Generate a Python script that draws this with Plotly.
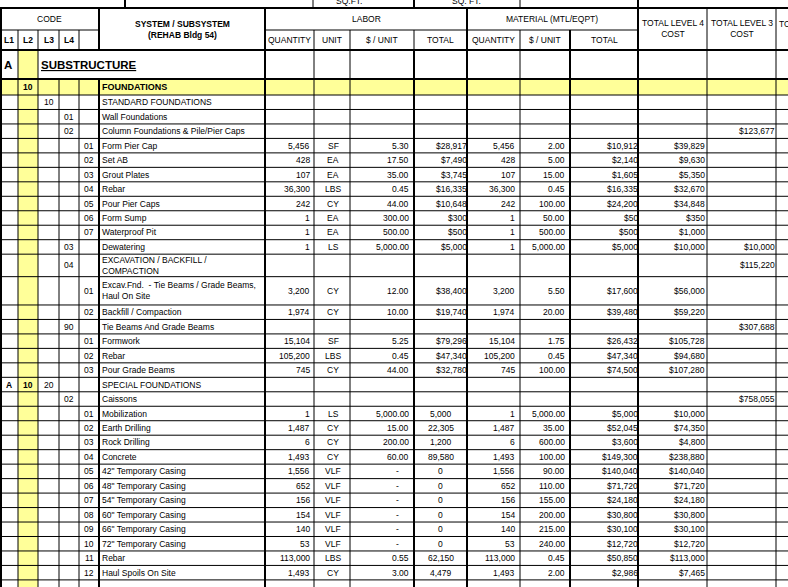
import plotly.graph_objects as go

# ---- sheet data (body rows, top to bottom, starting at STANDARD FOUNDATIONS) ----
l1 = ["", "", "", "", "", "", "", "", "", "", "", "", "", "", "", "", "", "", "A", "", "", "", "", "", "", "", "", "", "", "", "", ""]
l2 = ["", "", "", "", "", "", "", "", "", "", "", "", "", "", "", "", "", "", "10", "", "", "", "", "", "", "", "", "", "", "", "", ""]
l3 = ["10", "", "", "", "", "", "", "", "", "", "", "", "", "", "", "", "", "", "20", "", "", "", "", "", "", "", "", "", "", "", "", ""]
l4 = ["", "01", "02", "", "", "", "", "", "", "", "03", "04", "", "", "90", "", "", "", "", "02", "", "", "", "", "", "", "", "", "", "", "", ""]
l5 = ["", "", "", "01", "02", "03", "04", "05", "06", "07", "", "", "01", "02", "", "01", "02", "03", "", "", "01", "02", "03", "04", "05", "06", "07", "08", "09", "10", "11", "12"]

desc = ["STANDARD FOUNDATIONS", "Wall Foundations", "Column Foundations & Pile/Pier Caps",
        "Form Pier Cap", "Set AB", "Grout Plates", "Rebar", "Pour Pier Caps", "Form Sump",
        "Waterproof Pit", "Dewatering", "EXCAVATION / BACKFILL /<br>COMPACTION",
        "Excav.Fnd.  - Tie Beams / Grade Beams,<br>Haul On Site", "Backfill / Compaction",
        "Tie Beams And Grade Beams", "Formwork", "Rebar", "Pour Grade Beams",
        "SPECIAL FOUNDATIONS", "Caissons", "Mobilization", "Earth Drilling", "Rock Drilling",
        "Concrete", "42\" Temporary Casing", "48\" Temporary Casing", "54\" Temporary Casing",
        "60\" Temporary Casing", "66\" Temporary Casing", "72\" Temporary Casing", "Rebar",
        "Haul Spoils On Site"]

lab_qty = ["", "", "", "5,456", "428", "107", "36,300", "242", "1", "1", "1", "", "3,200", "1,974", "",
           "15,104", "105,200", "745", "", "", "1", "1,487", "6", "1,493", "1,556", "652", "156", "154",
           "140", "53", "113,000", "1,493"]
lab_unit = ["", "", "", "SF", "EA", "EA", "LBS", "CY", "EA", "EA", "LS", "", "CY", "CY", "",
            "SF", "LBS", "CY", "", "", "LS", "CY", "CY", "CY", "VLF", "VLF", "VLF", "VLF",
            "VLF", "VLF", "LBS", "CY"]
lab_rate = ["", "", "", "5.30", "17.50", "35.00", "0.45", "44.00", "300.00", "500.00", "5,000.00", "",
            "12.00", "10.00", "", "5.25", "0.45", "44.00", "", "", "5,000.00", "15.00", "200.00",
            "60.00", "-", "-", "-", "-", "-", "-", "0.55", "3.00"]
lab_total = ["", "", "", "$28,917", "$7,490", "$3,745", "$16,335", "$10,648", "$300", "$500", "$5,000", "",
             "$38,400", "$19,740", "", "$79,296", "$47,340", "$32,780", "", "", "5,000", "22,305",
             "1,200", "89,580", "0", "0", "0", "0", "0", "0", "62,150", "4,479"]
mat_qty = ["", "", "", "5,456", "428", "107", "36,300", "242", "1", "1", "1", "", "3,200", "1,974", "",
           "15,104", "105,200", "745", "", "", "1", "1,487", "6", "1,493", "1,556", "652", "156", "154",
           "140", "53", "113,000", "1,493"]
mat_rate = ["", "", "", "2.00", "5.00", "15.00", "0.45", "100.00", "50.00", "500.00", "5,000.00", "",
            "5.50", "20.00", "", "1.75", "0.45", "100.00", "", "", "5,000.00", "35.00", "600.00",
            "100.00", "90.00", "110.00", "155.00", "200.00", "215.00", "240.00", "0.45", "2.00"]
mat_total = ["", "", "", "$10,912", "$2,140", "$1,605", "$16,335", "$24,200", "$50", "$500", "$5,000", "",
             "$17,600", "$39,480", "", "$26,432", "$47,340", "$74,500", "", "", "$5,000", "$52,045",
             "$3,600", "$149,300", "$140,040", "$71,720", "$24,180", "$30,800", "$30,100", "$12,720",
             "$50,850", "$2,986"]
total_l4 = ["", "", "", "$39,829", "$9,630", "$5,350", "$32,670", "$34,848", "$350", "$1,000", "$10,000", "",
            "$56,000", "$59,220", "", "$105,728", "$94,680", "$107,280", "", "", "$10,000", "$74,350",
            "$4,800", "$238,880", "$140,040", "$71,720", "$24,180", "$30,800", "$30,100", "$12,720",
            "$113,000", "$7,465"]
total_l3 = ["", "", "$123,677", "", "", "", "", "", "", "", "$10,000", "$115,220", "", "", "$307,688",
            "", "", "", "", "$758,055", "", "", "", "", "", "", "", "", "", "", "", ""]

# ---- layout of the sheet ----
W, H = 788, 587
FONT = "Liberation Sans, Arial, sans-serif"
FS = 8.5
YELLOW = "#FFFF99"

# body row heights (two tall rows hold wrapped text)
row_h = [14.47] * len(desc)
row_h[11] = 22.5
row_h[12] = 28.3
BODY_TOP = 95

tops = []
y = BODY_TOP
for h in row_h:
    tops.append(y)
    y += h
BODY_BOTTOM = y

shapes = []
ann = []


def hline(y, x0, x1, w=1):
    shapes.append(dict(type="line", x0=x0, x1=x1, y0=y, y1=y, xref="x", yref="y",
                       line=dict(color="black", width=w)))


def vline(x, y0, y1, w=1):
    shapes.append(dict(type="line", x0=x, x1=x, y0=y0, y1=y1, xref="x", yref="y",
                       line=dict(color="black", width=w)))


def text(x, y, s, anchor="left", size=FS, bold=False):
    if s == "":
        return
    if bold:
        s = "<b>" + s + "</b>"
    ann.append(dict(x=x, y=y, xref="x", yref="y", text=s, showarrow=False,
                    xanchor=anchor, yanchor="middle", align=anchor if anchor != "center" else "center",
                    font=dict(family=FONT, size=size, color="black"), borderpad=0))


# yellow fills
shapes.append(dict(type="rect", x0=18, x1=38, y0=50, y1=H, xref="x", yref="y",
                   fillcolor=YELLOW, line=dict(width=0), layer="below"))
shapes.append(dict(type="rect", x0=0, x1=W, y0=79, y1=95, xref="x", yref="y",
                   fillcolor=YELLOW, line=dict(width=0), layer="below"))

# horizontal rules
hline(8, 0, W, 2)
hline(30, 0, 99)
hline(30, 265, 638)
hline(50, 0, W, 2)
hline(79, 0, W, 2)
for t in tops:
    hline(t, 0, W)
hline(BODY_BOTTOM, 0, W)

# vertical rules
vline(1, 8, H, 2)
for x in (18, 38):
    vline(x, 30, H)
for x in (59, 79):
    vline(x, 30, 50)
    vline(x, 79, H)
vline(99, 8, 50, 2)
vline(99, 79, H, 2)
vline(265, 8, H, 2)
for x in (314, 350, 520):
    vline(x, 30, H)
vline(414, 30, 50)
vline(414, 50, H, 2)
vline(467, 8, H, 2)
vline(570, 30, H, 2)
vline(638, 0, H, 2)
vline(707, 8, H)
vline(776, 8, H)
# strip above the header
vline(125, 0, 8, 2)
vline(313, 0, 8)
vline(414, 0, 8, 2)
vline(520, 0, 8)

# strip text (cut off at the top)
text(349, 1, "SQ.FT.", "center")
text(466, 1, "SQ. FT.", "center")

# header
text(49.5, 19, "CODE", "center")
for lab, cx in zip(["L1", "L2", "L3", "L4"], [9, 28, 48.5, 69]):
    text(cx, 40, lab, "center", bold=True)
text(182, 29, "SYSTEM / SUBSYSTEM<br>(REHAB Bldg 54)", "center", bold=True)
text(366, 19, "LABOR", "center")
text(552, 19, "MATERIAL (MTL/EQPT)", "center")
text(672.5, 28, "TOTAL LEVEL 4<br>COST", "center")
text(741.5, 28, "TOTAL LEVEL 3<br>COST", "center")
text(778, 23.5, "TOTAL LEVEL 2", "left")
for lab, cx in zip(["QUANTITY", "UNIT", "$ / UNIT", "TOTAL", "QUANTITY", "$ / UNIT", "TOTAL"],
                   [289.5, 332, 382, 440.5, 493.5, 545, 604]):
    text(cx, 40, lab, "center")

# level A / level 10 rows
text(8, 65, "A", "center", size=11.5, bold=True)
text(40, 64.5, "<u>SUBSTRUCTURE</u>", "left", size=11.5, bold=True)
text(28, 87, "10", "center", bold=True)
text(101, 87, "FOUNDATIONS", "left", size=9, bold=True)

# body
for i, t in enumerate(tops):
    yc = t + row_h[i] / 2
    text(9, yc, l1[i], "center", bold=True)
    text(28, yc, l2[i], "center", bold=True)
    text(48.5, yc, l3[i], "center")
    text(69, yc, l4[i], "center")
    text(89, yc, l5[i], "center")
    text(101, yc, desc[i], "left")
    text(311, yc, lab_qty[i], "right")
    text(333, yc, lab_unit[i], "center")
    if lab_rate[i] == "-":
        text(400, yc, lab_rate[i], "right")
    else:
        text(409.5, yc, lab_rate[i], "right")
    if lab_total[i].startswith("$"):
        text(467.5, yc, lab_total[i], "right")
    else:
        text(440.5, yc, lab_total[i], "center")
    text(516, yc, mat_qty[i], "right")
    text(566, yc, mat_rate[i], "right")
    text(638.5, yc, mat_total[i], "right")
    text(706, yc, total_l4[i], "right")
    text(775.5, yc, total_l3[i], "right")

fig = go.Figure()
fig.update_layout(
    width=W, height=H,
    margin=dict(l=0, r=0, t=0, b=0),
    paper_bgcolor="white", plot_bgcolor="white",
    xaxis=dict(range=[0, W], visible=False, fixedrange=True),
    yaxis=dict(range=[H, 0], visible=False, fixedrange=True),
    shapes=shapes,
    annotations=ann,
    showlegend=False,
)
fig.write_html("out.html", config={"displayModeBar": False},
               post_script="document.body.style.margin='0';document.body.style.overflow='hidden';")
